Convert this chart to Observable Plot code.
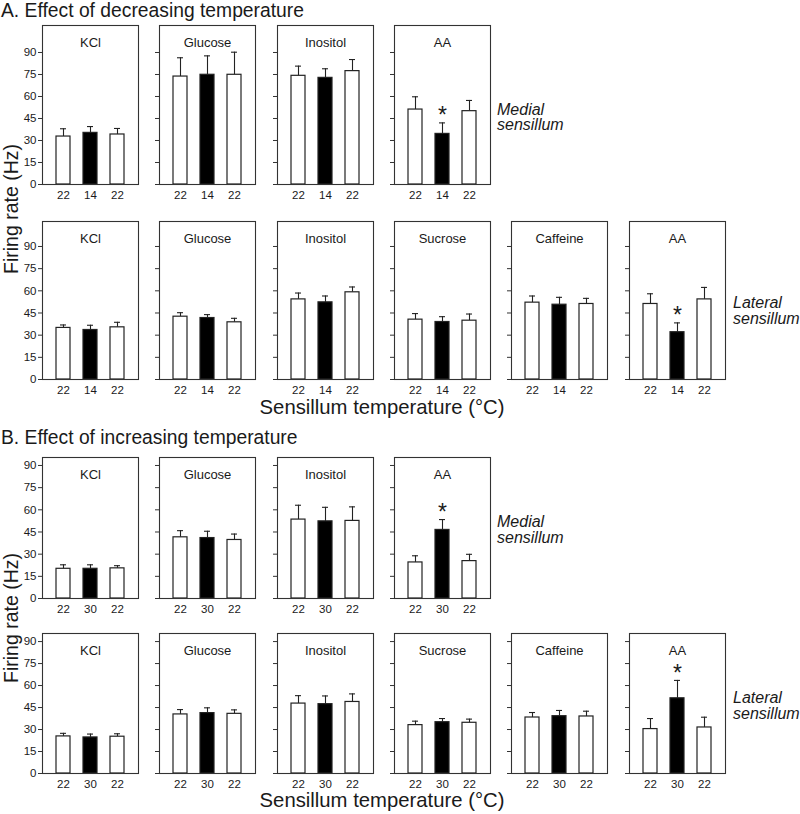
<!DOCTYPE html>
<html>
<head>
<meta charset="utf-8">
<script src="https://cdn.jsdelivr.net/npm/d3@7"></script>
<script src="https://cdn.jsdelivr.net/npm/@observablehq/plot@0.6"></script>
<style>
  body { margin: 0; background: #fff; font-family: "Liberation Sans", Arial, sans-serif; }
  #c { position: relative; width: 800px; height: 814px; overflow: hidden; background: #fff; }
  .lab { position: absolute; white-space: nowrap; color: #1a1a1a; line-height: 1; }
  .pn { position: absolute; }
  .pn svg { overflow: visible; }
</style>
</head>
<body>
<div id="c"></div>
<script>
// ---------- DATA ----------
const conditions = ["before", "test", "after"];
const tempLabelsA = ["22", "14", "22"];
const tempLabelsB = ["22", "30", "22"];
const yTicks = [0, 15, 30, 45, 60, 75, 90];

// A. decreasing temperature – medial sensillum
const stimA_med = ["KCl", "Glucose", "Inositol", "AA"];
const meanA_med = [[32.7, 35.2, 34.1], [73.6, 74.8, 74.8], [74.1, 72.7, 77.3], [51.1, 34.5, 50.0]];
const semA_med  = [[5.3, 4.3, 4.1], [12.8, 12.9, 15.4], [6.6, 6.2, 7.9], [8.7, 7.5, 7.3]];
const sigA_med  = [null, null, null, "test"];

// A. decreasing temperature – lateral sensillum
const stimA_lat = ["KCl", "Glucose", "Inositol", "Sucrose", "Caffeine", "AA"];
const meanA_lat = [[34.9, 33.5, 35.3], [42.5, 41.6, 38.7], [54.2, 52.2, 59.0], [40.5, 38.9, 39.8], [52.0, 50.6, 51.1], [51.1, 32.0, 54.2]];
const semA_lat  = [[2.0, 3.2, 3.4], [2.7, 2.3, 2.7], [4.3, 4.3, 3.6], [4.1, 3.6, 4.5], [4.5, 5.0, 3.8], [6.9, 6.3, 8.1]];
const sigA_lat  = [null, null, null, null, null, "test"];

// B. increasing temperature – medial sensillum
const stimB_med = ["KCl", "Glucose", "Inositol", "AA"];
const meanB_med = [[20.1, 20.1, 20.4], [41.4, 40.9, 39.6], [53.4, 52.2, 52.5], [24.4, 46.4, 25.3]];
const semB_med  = [[2.7, 2.7, 1.8], [4.5, 4.6, 4.0], [9.7, 9.5, 9.5], [4.5, 7.0, 4.6]];
const sigB_med  = [null, null, null, "test"];

// B. increasing temperature – lateral sensillum
const stimB_lat = ["KCl", "Glucose", "Inositol", "Sucrose", "Caffeine", "AA"];
const meanB_lat = [[25.3, 24.6, 25.1], [40.3, 41.2, 40.7], [47.7, 47.3, 48.8], [33.0, 35.0, 34.6], [38.2, 39.1, 38.9], [30.3, 51.3, 31.4]];
const semB_lat  = [[2.1, 2.3, 2.0], [3.3, 3.6, 2.7], [5.4, 5.6, 5.5], [2.7, 2.5, 2.5], [3.4, 3.9, 3.6], [7.2, 12.2, 7.0]];
const sigB_lat  = [null, null, null, null, null, "test"];

// ---------- LAYOUT ----------
const FONT = "'Liberation Sans', Arial, sans-serif";
const panelLefts = [42, 159.3, 276.6, 393.9, 511.2, 628.5];
const PW = 96;
const ML = 30, MR = 4, MT = 4, MB = 22;
const rows = [
  { stim: stimA_med, mean: meanA_med, sem: semA_med, sig: sigA_med, labels: tempLabelsA, top: 25,  h: 159, ymax: 108.4 },
  { stim: stimA_lat, mean: meanA_lat, sem: semA_lat, sig: sigA_lat, labels: tempLabelsA, top: 221, h: 158, ymax: 106.9 },
  { stim: stimB_med, mean: meanB_med, sem: semB_med, sig: sigB_med, labels: tempLabelsB, top: 457, h: 141, ymax: 95.4 },
  { stim: stimB_lat, mean: meanB_lat, sem: semB_lat, sig: sigB_lat, labels: tempLabelsB, top: 633, h: 140, ymax: 95.5 }
];

const container = document.getElementById("c");

function panel(row, j) {
  const data = conditions.map((c, i) => ({ c, v: row.mean[j][i], top: row.mean[j][i] + row.sem[j][i] }));
  const sig = row.sig[j];
  const showY = j === 0;
  return Plot.plot({
    width: ML + PW + MR,
    height: MT + row.h + MB,
    marginLeft: ML, marginRight: MR, marginTop: MT, marginBottom: MB,
    style: { fontFamily: FONT, fontSize: "11px", color: "#1a1a1a", background: "transparent" },
    x: { domain: conditions, padding: 0.5 },
    y: { domain: [0, row.ymax] },
    marks: [
      Plot.axisX({ tickSize: 0, tickPadding: 6, label: null, fontSize: 11.5,
                   tickFormat: d => row.labels[conditions.indexOf(d)] }),
      Plot.axisY({ ticks: yTicks, tickSize: 4, tickPadding: 2, label: null, fontSize: 11.5,
                   stroke: "#333", tickFormat: showY ? d => String(d) : () => "" }),
      Plot.ruleX(data, { x: "c", y1: "v", y2: "top", stroke: "#222", strokeWidth: 1.1 }),
      Plot.tickY(data, { x: "c", y: "top", insetLeft: 4, insetRight: 4, stroke: "#222", strokeWidth: 1.1 }),
      Plot.barY(data, { x: "c", y: "v", fill: d => d.c === "test" ? "#000" : "#fff", stroke: "#222", strokeWidth: 1.2 }),
      Plot.frame({ stroke: "#333", strokeWidth: 1.1 }),
      Plot.text([row.stim[j]], { frameAnchor: "top", dy: 12, text: d => d, fontSize: 13, fill: "#1a1a1a" }),
      sig ? Plot.text(data.filter(d => d.c === sig), { x: "c", y: "top", text: () => "*", dy: -7, fontSize: 23, fill: "#1a1a1a" }) : null
    ]
  });
}

rows.forEach(row => {
  row.stim.forEach((s, j) => {
    const div = document.createElement("div");
    div.className = "pn";
    div.style.left = (panelLefts[j] - ML) + "px";
    div.style.top = (row.top - MT) + "px";
    div.appendChild(panel(row, j));
    container.appendChild(div);
  });
});

function label(text, x, y, opts = {}) {
  const d = document.createElement("div");
  d.className = "lab";
  d.textContent = text;
  d.style.left = x + "px";
  d.style.top = y + "px";
  d.style.fontSize = (opts.size || 14) + "px";
  if (opts.italic) d.style.fontStyle = "italic";
  let t = "translateY(-50%)";
  if (opts.center) t = "translate(-50%,-50%)";
  if (opts.rotate) t = "translate(-50%,-50%) rotate(-90deg)";
  d.style.transform = t;
  if (opts.lh) { d.style.lineHeight = opts.lh + "px"; d.style.whiteSpace = "pre"; }
  container.appendChild(d);
}

label("A. Effect of decreasing temperature", 1, 11, { size: 19.3 });
label("B. Effect of increasing temperature", 1, 438, { size: 19.3 });
label("Sensillum temperature (°C)", 382, 407, { size: 20.3, center: true });
label("Sensillum temperature (°C)", 382, 800, { size: 20.3, center: true });
label("Firing rate (Hz)", 11.5, 209, { size: 19.5, rotate: true });
label("Firing rate (Hz)", 11.5, 618, { size: 19.5, rotate: true });
label("Medial\nsensillum", 497, 117, { size: 16, italic: true, lh: 15 });
label("Lateral\nsensillum", 733, 311, { size: 16, italic: true, lh: 16 });
label("Medial\nsensillum", 497, 530, { size: 16, italic: true, lh: 16 });
label("Lateral\nsensillum", 733, 706, { size: 16, italic: true, lh: 16 });
</script>
</body>
</html>
